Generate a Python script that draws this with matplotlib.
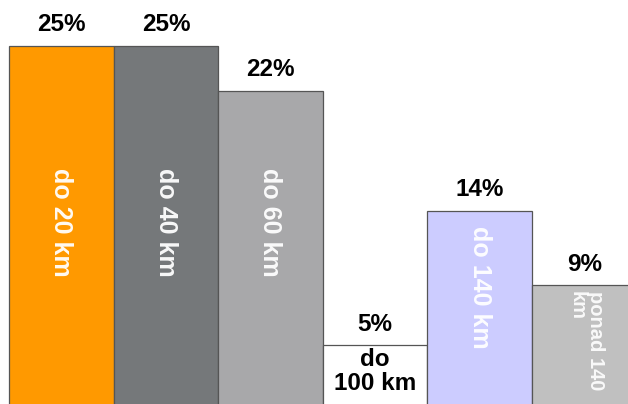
"""
Udział tras według odległości - wykres słupkowy bez odstępów
"""

import matplotlib.pyplot as plt

plt.rcParams['font.family'] = ['Liberation Sans', 'DejaVu Sans']

# Dane
categories = ['do 20 km', 'do 40 km', 'do 60 km', 'do\n100 km', 'do 140 km', 'ponad 140\nkm']
shares = [25, 25, 22, 5, 14, 9]
bar_colors = ['#FF9900', '#75787A', '#A8A8AA', '#FFFFFF', '#CCCCFF', '#C0C0C0']

fig = plt.figure(figsize=(6.28, 4.04), dpi=100)
ax = fig.add_axes([0, 0, 1, 1])

x = list(range(len(shares)))
bars = ax.bar(x, shares, width=1.0, align='edge', color=bar_colors,
              edgecolor='#555555', linewidth=0.9)

# etykiety procentowe nad słupkami
for b, v in zip(bars, shares):
    ax.annotate(f'{v}%', (b.get_x() + 0.5, v), xytext=(0, 7),
                textcoords='offset points', ha='center', va='bottom',
                fontsize=17.5, fontweight='bold', color='black')

# opisy wewnątrz słupków (pionowe)
inner_y = [13.2, 13.2, 13.2, None, 8.9, 5.3]
for i, (label, v) in enumerate(zip(categories, shares)):
    cx = i + 0.5
    if i == 3:
        # wąski słupek - opis poziomo, czarnym tekstem
        ax.text(cx, v - 0.2, label, ha='center', va='top', fontsize=17.5,
                fontweight='bold', color='black', linespacing=1.05)
    elif i == 5:
        ax.text(cx + 0.02, inner_y[i], label, ha='center', va='center',
                rotation=270, rotation_mode='anchor', multialignment='left',
                fontsize=14.5, fontweight='bold', color='white', alpha=0.9,
                linespacing=0.9)
    else:
        ax.text(cx, inner_y[i], label, ha='center', va='center',
                rotation=270, rotation_mode='anchor', fontsize=18,
                fontweight='bold', color='white', alpha=0.95)

ax.set_xlim(-0.086, 5.918)
ax.set_ylim(1.08, 28.07)
ax.axis('off')

fig.savefig('out.png', dpi=100)
plt.close(fig)
